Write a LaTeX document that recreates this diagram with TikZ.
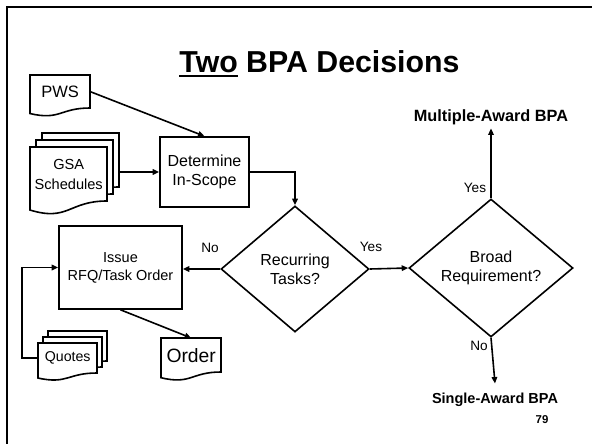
\documentclass[tikz,border=0pt]{standalone}
\usepackage{fontspec}
\setmainfont{Liberation Sans}
\usetikzlibrary{positioning, arrows.meta, shapes.geometric, calc}

\tikzset{
  box/.style={draw, line width=1.6pt, align=center, inner sep=0pt, font=\fontsize{16}{19}\selectfont},
  decision/.style={diamond, draw, line width=1.6pt, align=center, aspect=1.17, inner sep=0pt, font=\fontsize{16}{19}\selectfont},
  docline/.style={draw, fill=white, line width=1.6pt},
  doctext/.style={anchor=north west, inner sep=0pt, align=center},
  flow/.style={line width=1.6pt, -{Triangle[length=6.5pt,width=5.5pt]}},
  lbl/.style={inner sep=0pt, font=\fontsize{13.6}{16}\selectfont},
  outcome/.style={inner sep=3pt},
}

% feuille a bord ondule : coin haut gauche, largeur, hauteur
\newcommand\docsheet[4]{%
  \draw[docline] (#1,#2) -- ++(#3,0) -- ++(0,#4)
    .. controls +(-0.5*#3,0) and +(0.5*#3,0.2165*#4) .. ++(-#3,0.1675*#4) -- cycle;}
\newcommand\titleul[1]{\setbox0\hbox{#1}\rlap{\rule[-4.3pt]{\wd0}{2.3pt}}\box0\relax}

\begin{document}
\begin{tikzpicture}[x=1pt, y=-1pt]
    \useasboundingbox (0,0) rectangle (592,444);
    % Cadre
    \draw[line width=2.4pt] (7,444) -- (7,7) -- (592,7);
    
    % Titre
    \node[anchor=base, font=\fontsize{30.3}{36}\selectfont\bfseries] (title) at (319.5,73) {\titleul{Two} BPA Decisions};
    
    % Documents
    \docsheet{30}{75}{60}{33}
    \node[doctext, minimum width=60, minimum height=33, font=\fontsize{16.5}{19}\selectfont] (pws) at (30,75) {PWS};
    
    \docsheet{42}{133}{77}{54}
    \docsheet{36}{140}{77}{54}
    \docsheet{30}{147}{77}{54}
    \node[doctext, minimum width=77, minimum height=54, font=\fontsize{14.6}{20}\selectfont] (gsa) at (30,147) {GSA\\Schedules};
    
    \docsheet{48}{331}{59}{30}
    \docsheet{43}{337}{59}{30}
    \docsheet{38}{343}{59}{30}
    \node[doctext, minimum width=59, minimum height=30, font=\fontsize{14.2}{17}\selectfont] (quotes) at (38,343) {Quotes};
    
    \docsheet{161}{338}{60}{34}
    \node[doctext, minimum width=60, minimum height=34, font=\fontsize{19.3}{22}\selectfont] (order) at (161,338) {Order};
    
    % Etapes
    \node[box, minimum width=89, minimum height=70] (det) at (204.5,172) {Determine\\In-Scope};
    \node[box, minimum width=123, minimum height=83, font=\fontsize{14.5}{18}\selectfont] (issue) at (120.5,267.5) {Issue\\RFQ/Task Order};
    
    % Decisions
    \node[decision, minimum width=148, minimum height=126] (rec) at (295,269) {Recurring\\Tasks?};
    \node[decision, minimum width=164, minimum height=138] (broad) at (491,268) {Broad\\Requirement?};
    
    % Resultats
    \node[outcome, font=\fontsize{16.3}{19}\selectfont\bfseries] (multi) at (491,117.6) {Multiple-Award BPA};
    \node[outcome, font=\fontsize{14.5}{17}\selectfont\bfseries] (single) at (495,399.5) {Single-Award BPA};
    \node[font=\fontsize{11.4}{13}\selectfont\bfseries] (page) at (542,420) {79};
    
    % Fleches
    \draw[flow] (pws.east) -- (det.north);
    \draw[flow] ($(gsa.east |- det.west)+(12,0)$) -- (det.west);
    \draw[flow] (det.east) -| (rec.north);
    \draw[flow] (rec.west) -- (rec.west -| issue.east);
    \draw[flow] (rec.east) -- (broad.west);
    \draw[flow] (broad.north) -- (multi.south);
    \draw[flow] (broad.south) -- ([yshift=6pt]single.north);
    \draw[flow] (issue.south) -- (order.north);
    \draw[flow] (quotes.west) -- ++(-16,0) |- (issue.west);
    
    % Etiquettes
    \node[lbl] (no1) at (210,248) {No};
    \node[lbl] (yes1) at (371,247) {Yes};
    \node[lbl] (yes2) at (475,188) {Yes};
    \node[lbl] (no2) at (479,346) {No};
\end{tikzpicture}
\end{document}
